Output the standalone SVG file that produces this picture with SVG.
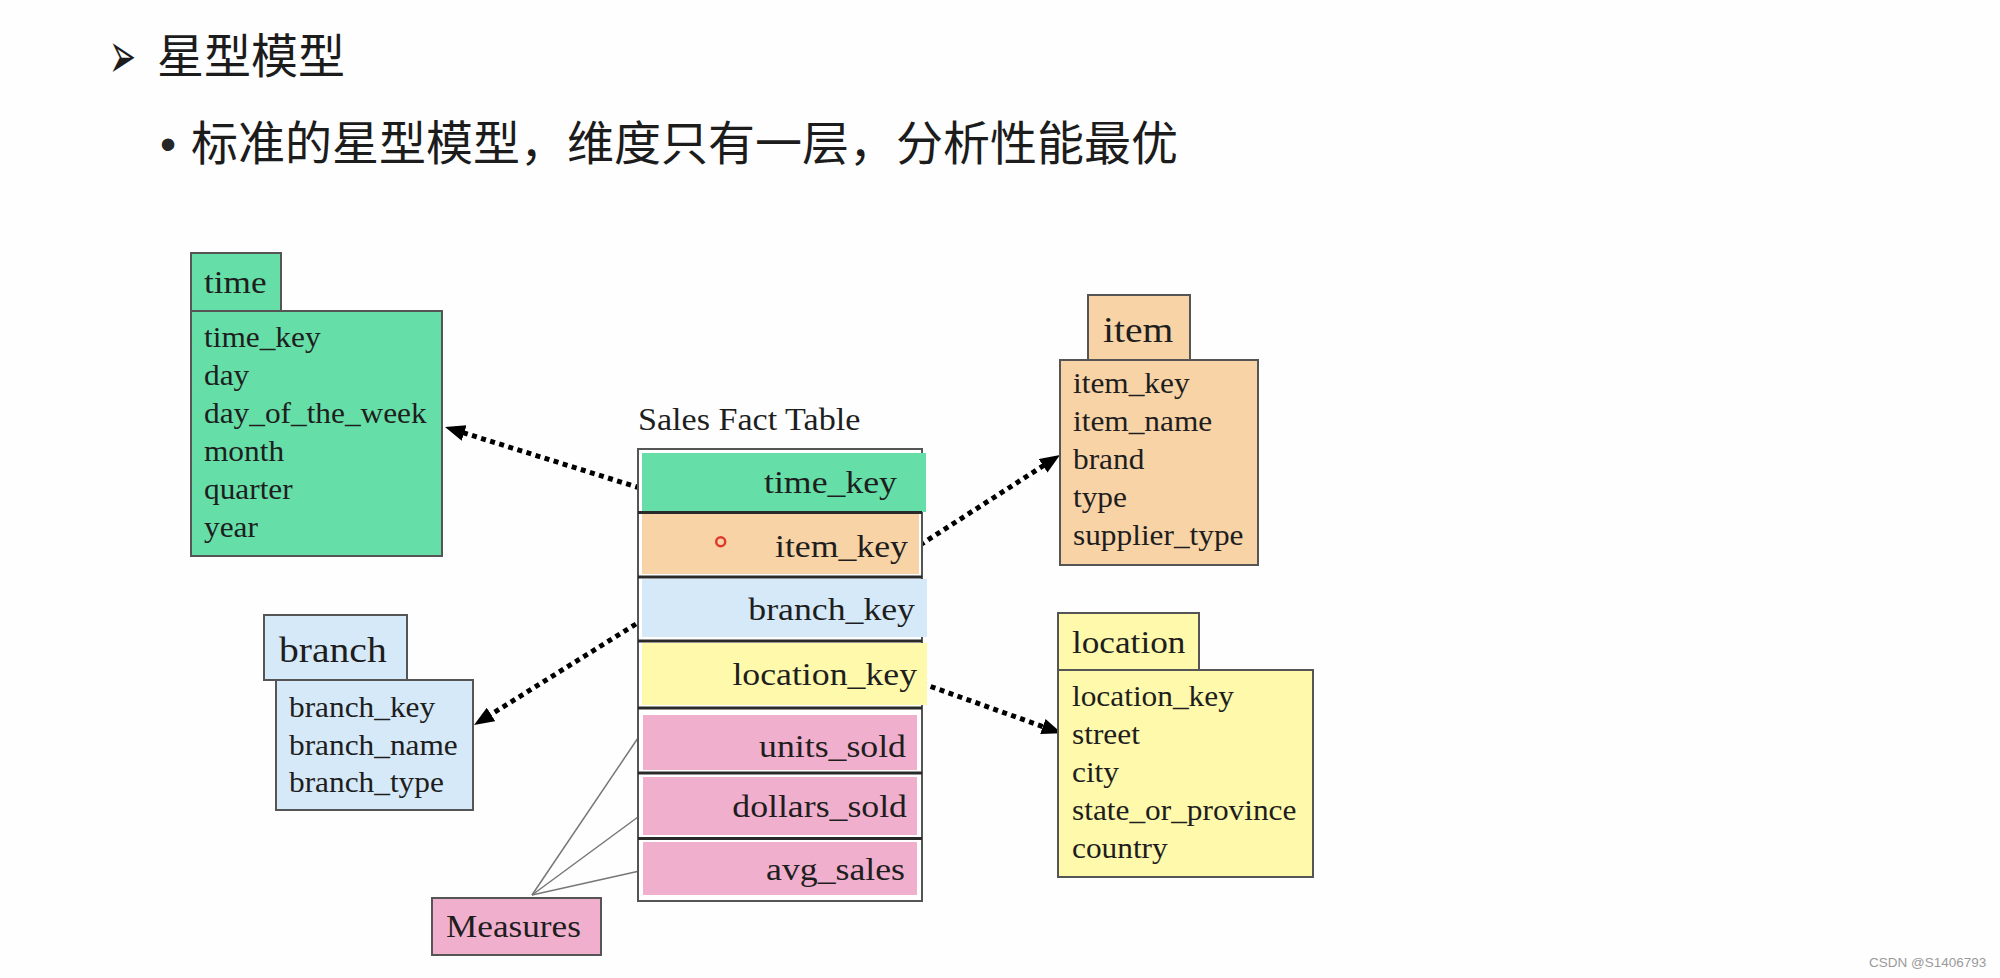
<svg xmlns="http://www.w3.org/2000/svg" width="2000" height="978" viewBox="0 0 2000 978">
<defs>
<style>
.t{font-family:"Liberation Serif","Times New Roman",serif;fill:#1e1e1e}
.b{font-size:28.5px}
.f{font-size:32.5px}
.h{font-size:32px}
.H{font-size:36px}
.box{stroke:#555;stroke-width:2}
.sep{stroke:#2a2a2a;stroke-width:3}
.green{fill:#66dea8}
.orange{fill:#f8d3a6}
.blue{fill:#d5e9f8}
.yellow{fill:#fef9ab}
.pink{fill:#f0afcd}
.dot{fill:none;stroke:#000;stroke-width:5;stroke-dasharray:5 4.5}
.thin{fill:none;stroke:#777;stroke-width:1.5}
.cjk{font-family:"Noto Sans CJK SC","Noto Sans",sans-serif;fill:#1c1c1c}
</style>
<marker id="ah" markerUnits="userSpaceOnUse" markerWidth="22" markerHeight="18" refX="6" refY="8" orient="auto">
<path d="M0,0 L20,8 L0,16 z" fill="#000"/>
</marker>
</defs>
<rect x="0" y="0" width="2000" height="978" fill="#fefefe"/>

<g id="title">
<text transform="translate(109 78) scale(0.62 1.25)" font-family="DejaVu Sans,sans-serif" font-size="52" fill="#1c1c1c">➢</text>
<text class="cjk" x="157" y="73" font-size="47">星型模型</text>
<text x="160" y="160" font-family="Liberation Sans,Arial,sans-serif" font-size="46" fill="#262626">•</text>
<text class="cjk" x="191" y="160" font-size="47" fill="#262626">标准的星型模型，维度只有一层，分析性能最优</text>
</g>

<g id="connectors">
<line class="dot" x1="640" y1="488" x2="458.4" y2="431.2" marker-end="url(#ah)"/>
<line class="dot" x1="920" y1="545" x2="1048.2" y2="462.6" marker-end="url(#ah)"/>
<line class="dot" x1="636" y1="624" x2="485.9" y2="717.6" marker-end="url(#ah)"/>
<line class="dot" x1="921.7" y1="683.3" x2="1048.5" y2="728.6" marker-end="url(#ah)"/>
<line class="thin" x1="532" y1="895" x2="638" y2="738"/>
<line class="thin" x1="532" y1="895" x2="638" y2="817"/>
<line class="thin" x1="532" y1="895" x2="653" y2="868"/>
</g>

<g id="time">
<rect class="box green" x="191" y="253" width="90" height="58"/>
<rect class="box green" x="191" y="311" width="251" height="245"/>
<text class="t h" transform="translate(204 293) scale(1.1 1)">time</text>
<text class="t b" transform="translate(204 347) scale(1.1 1)">time_key</text>
<text class="t b" transform="translate(204 385) scale(1.1 1)">day</text>
<text class="t b" transform="translate(204 423) scale(1.1 1)">day_of_the_week</text>
<text class="t b" transform="translate(204 461) scale(1.1 1)">month</text>
<text class="t b" transform="translate(204 499) scale(1.1 1)">quarter</text>
<text class="t b" transform="translate(204 537) scale(1.1 1)">year</text>
</g>

<g id="item">
<rect class="box orange" x="1088" y="295" width="102" height="65"/>
<rect class="box orange" x="1060" y="360" width="198" height="205"/>
<text class="t H" transform="translate(1103 342) scale(1.1 1)">item</text>
<text class="t b" transform="translate(1073 393) scale(1.1 1)">item_key</text>
<text class="t b" transform="translate(1073 431) scale(1.1 1)">item_name</text>
<text class="t b" transform="translate(1073 469) scale(1.1 1)">brand</text>
<text class="t b" transform="translate(1073 507) scale(1.1 1)">type</text>
<text class="t b" transform="translate(1073 545) scale(1.1 1)">supplier_type</text>
</g>

<g id="branch">
<rect class="box blue" x="264" y="615" width="143" height="65"/>
<rect class="box blue" x="276" y="680" width="197" height="130"/>
<text class="t H" transform="translate(279 662) scale(1.1 1)">branch</text>
<text class="t b" transform="translate(289 717) scale(1.1 1)">branch_key</text>
<text class="t b" transform="translate(289 755) scale(1.1 1)">branch_name</text>
<text class="t b" transform="translate(289 792) scale(1.1 1)">branch_type</text>
</g>

<g id="location">
<rect class="box yellow" x="1058" y="613" width="141" height="57"/>
<rect class="box yellow" x="1058" y="670" width="255" height="207"/>
<text class="t h" transform="translate(1072 653) scale(1.1 1)">location</text>
<text class="t b" transform="translate(1072 706) scale(1.1 1)">location_key</text>
<text class="t b" transform="translate(1072 744) scale(1.1 1)">street</text>
<text class="t b" transform="translate(1072 782) scale(1.1 1)">city</text>
<text class="t b" transform="translate(1072 820) scale(1.1 1)">state_or_province</text>
<text class="t b" transform="translate(1072 858) scale(1.1 1)">country</text>
</g>

<g id="measures">
<rect class="box pink" x="432" y="898" width="169" height="57"/>
<text class="t h" transform="translate(446 937) scale(1.1 1)">Measures</text>
</g>

<g id="fact">
<text class="t" font-size="31" transform="translate(638 430) scale(1.1 1)" fill="#333">Sales Fact Table</text>
<rect class="box" x="638" y="449" width="284" height="452" fill="#fff"/>
<rect class="green" x="642" y="453" width="284" height="59"/>
<rect class="orange" x="642" y="514" width="277" height="60"/>
<rect class="blue" x="642" y="579" width="285" height="58"/>
<rect class="yellow" x="642" y="643" width="285" height="62"/>
<rect class="pink" x="643" y="715" width="274" height="55"/>
<rect class="pink" x="643" y="777" width="274" height="58"/>
<rect class="pink" x="643" y="842" width="274" height="53"/>
<line class="sep" x1="638" y1="512.5" x2="922" y2="512.5"/>
<line class="sep" x1="638" y1="577" x2="922" y2="577"/>
<line class="sep" x1="638" y1="641" x2="922" y2="641"/>
<line class="sep" x1="638" y1="708" x2="922" y2="708"/>
<line class="sep" x1="638" y1="773" x2="922" y2="773"/>
<line class="sep" x1="638" y1="838.5" x2="922" y2="838.5"/>
<text class="t f" text-anchor="end" transform="translate(897 493) scale(1.1 1)">time_key</text>
<text class="t f" text-anchor="end" transform="translate(908 557) scale(1.1 1)">item_key</text>
<text class="t f" text-anchor="end" transform="translate(915 620) scale(1.1 1)">branch_key</text>
<text class="t f" text-anchor="end" transform="translate(917 685) scale(1.1 1)">location_key</text>
<text class="t f" text-anchor="end" transform="translate(906 757) scale(1.1 1)">units_sold</text>
<text class="t f" text-anchor="end" transform="translate(907 817) scale(1.1 1)">dollars_sold</text>
<text class="t f" text-anchor="end" transform="translate(905 880) scale(1.1 1)">avg_sales</text>
<circle cx="720.7" cy="541.7" r="4.5" fill="none" stroke="#e03a2c" stroke-width="2.5"/>
</g>

<text x="1869" y="967" font-family="Liberation Sans,Arial,sans-serif" font-size="13.5" fill="#9a9a9a">CSDN @S1406793</text>
</svg>
